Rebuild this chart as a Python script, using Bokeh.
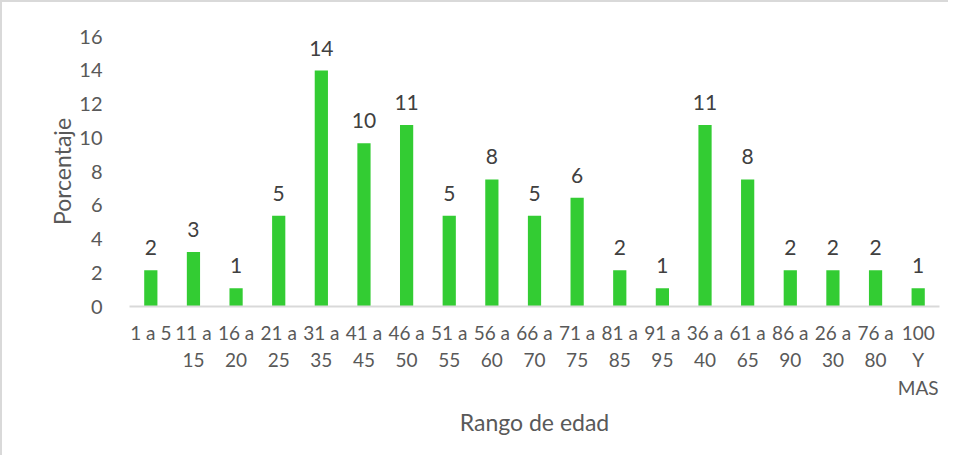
from bokeh.plotting import figure
from bokeh.models import ColumnDataSource, LabelSet, FixedTicker, Range1d
from bokeh.core.properties import value
from bokeh.embed import file_html
from bokeh.resources import INLINE

categories = ["1 a 5", "11 a\n15", "16 a\n20", "21 a\n25", "31 a\n35", "41 a\n45", "46 a\n50",
              "51 a\n55", "56 a\n60", "66 a\n70", "71 a\n75", "81 a\n85", "91 a\n95", "36 a\n40",
              "61 a\n65", "86 a\n90", "26 a\n30", "76 a\n80", "100\nY\nMAS"]
values = [2.15, 3.23, 1.08, 5.38, 13.98, 9.68, 10.75, 5.38, 7.53, 5.38, 6.45, 2.15, 1.08,
          10.75, 7.53, 2.15, 2.15, 2.15, 1.08]
value_labels = ["2", "3", "1", "5", "14", "10", "11", "5", "8", "5", "6", "2", "1",
                "11", "8", "2", "2", "2", "1"]
y_ticks = [0, 2, 4, 6, 8, 10, 12, 14, 16]

FONT = "Lato"
TXT = "#595959"

xs = list(range(len(categories)))
src = ColumnDataSource(dict(x=xs, top=values, lab=value_labels))

p = figure(width=948, height=455, output_backend="svg", toolbar_location=None,
           x_range=Range1d(-0.5, len(categories) - 0.5), y_range=Range1d(0, 16),
           min_border_left=127, min_border_right=11, min_border_top=34, min_border_bottom=151)
p.styles = {"border-left": "2px solid #d9d9d9", "border-top": "2px solid #d9d9d9"}
p.outline_line_color = None
p.xgrid.visible = False
p.ygrid.visible = False

p.vbar(x="x", top="top", width=0.31, source=src, fill_color="#33cc33", line_color=None)

labels = LabelSet(x="x", y="top", text="lab", source=src, text_align="center",
                  text_baseline="bottom", y_offset=15, text_font=value(FONT),
                  text_font_size=value("21px"), text_color="#404040")
p.add_layout(labels)

# X axis
p.xaxis.ticker = FixedTicker(ticks=xs)
p.xaxis.major_label_overrides = {i: c for i, c in enumerate(categories)}
p.xaxis.major_tick_line_color = None
p.xaxis.minor_tick_line_color = None
p.xaxis.axis_line_color = "#d9d9d9"
p.xaxis.axis_line_width = 2
p.xaxis.major_label_text_font = FONT
p.xaxis.major_label_text_font_size = "19px"
p.xaxis.major_label_text_color = TXT
p.xaxis.major_label_standoff = 8
p.xaxis.axis_label = "Rango de edad"
p.xaxis.axis_label_text_font = FONT
p.xaxis.axis_label_text_font_size = "23px"
p.xaxis.axis_label_text_font_style = "normal"
p.xaxis.axis_label_text_color = TXT
p.xaxis.axis_label_standoff = 6

# Y axis
p.yaxis.ticker = FixedTicker(ticks=y_ticks)
p.yaxis.major_tick_line_color = None
p.yaxis.minor_tick_line_color = None
p.yaxis.axis_line_color = None
p.yaxis.major_label_text_font = FONT
p.yaxis.major_label_text_font_size = "20px"
p.yaxis.major_label_text_color = TXT
p.yaxis.major_label_standoff = 21
p.yaxis.axis_label = "Porcentaje"
p.yaxis.axis_label_text_font = FONT
p.yaxis.axis_label_text_font_size = "23px"
p.yaxis.axis_label_text_font_style = "normal"
p.yaxis.axis_label_text_color = TXT
p.yaxis.axis_label_standoff = 0

open("out.html", "w").write(file_html(p, INLINE))
